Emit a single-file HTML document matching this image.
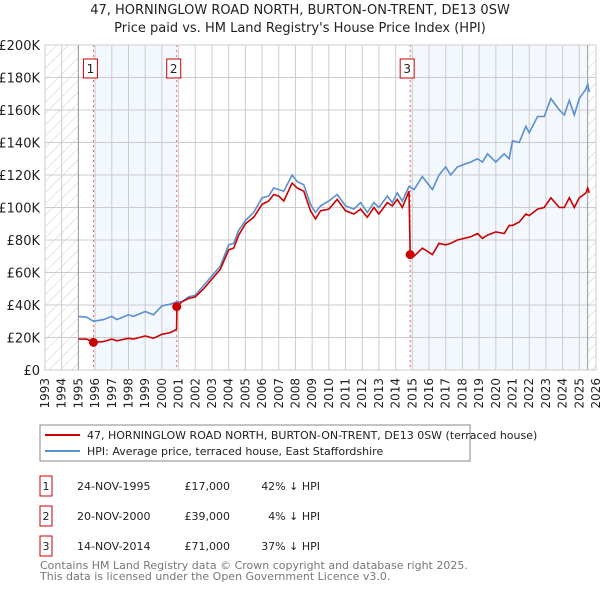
<!DOCTYPE html>
<html><head><meta charset="utf-8"><style>
body{margin:0;background:#fff;font-family:"DejaVu Sans","Liberation Sans",sans-serif;}
#wrap{position:relative;width:600px;height:590px;overflow:hidden}
</style></head><body>
<div id="wrap">
<svg id="chart" width="600" height="590" xmlns="http://www.w3.org/2000/svg">
<defs><pattern id="hatch" width="8" height="8" patternUnits="userSpaceOnUse" patternTransform="rotate(45)"><line x1="0" y1="0" x2="0" y2="8" stroke="#ccc" stroke-width="1"/></pattern></defs>
<text x="300" y="14" text-anchor="middle" font-size="13" fill="#222">47, HORNINGLOW ROAD NORTH, BURTON-ON-TRENT, DE13 0SW</text>
<text x="300" y="32" text-anchor="middle" font-size="13" fill="#222">Price paid vs. HM Land Registry's House Price Index (HPI)</text>
<g id="plot"></g>
<rect x="40" y="425" width="430" height="36" fill="#fff" stroke="#888"/>
<line x1="45" y1="435" x2="80" y2="435" stroke="#cc0000" stroke-width="2"/>
<text x="87" y="439" font-size="11" fill="#222">47, HORNINGLOW ROAD NORTH, BURTON-ON-TRENT, DE13 0SW (terraced house)</text>
<line x1="45" y1="451" x2="80" y2="451" stroke="#5b8fd0" stroke-width="2"/>
<text x="87" y="455" font-size="11" fill="#222">HPI: Average price, terraced house, East Staffordshire</text>
<g font-size="11" fill="#222">
<rect x="40" y="476" width="12" height="20" fill="#fff" stroke="#cc0000"/><text x="46" y="490" text-anchor="middle">1</text>
<text x="77" y="490">24-NOV-1995</text><text x="230" y="490" text-anchor="end">£17,000</text><text x="320" y="490" text-anchor="end">42% ↓ HPI</text>
<rect x="40" y="506" width="12" height="20" fill="#fff" stroke="#cc0000"/><text x="46" y="520" text-anchor="middle">2</text>
<text x="77" y="520">20-NOV-2000</text><text x="230" y="520" text-anchor="end">£39,000</text><text x="320" y="520" text-anchor="end">4% ↓ HPI</text>
<rect x="40" y="536" width="12" height="20" fill="#fff" stroke="#cc0000"/><text x="46" y="550" text-anchor="middle">3</text>
<text x="77" y="550">14-NOV-2014</text><text x="230" y="550" text-anchor="end">£71,000</text><text x="320" y="550" text-anchor="end">37% ↓ HPI</text>
</g>
<text x="40" y="569" font-size="11" fill="#777">Contains HM Land Registry data © Crown copyright and database right 2025.</text>
<text x="40" y="580" font-size="11" fill="#777">This data is licensed under the Open Government Licence v3.0.</text>
</svg></div>
<script>
const yTickValues=[0,20,40,60,80,100,120,140,160,180,200];
const yTickLabels=["£0","£20K","£40K","£60K","£80K","£100K","£120K","£140K","£160K","£180K","£200K"];
const xYears=[1993,1994,1995,1996,1997,1998,1999,2000,2001,2002,2003,2004,2005,2006,2007,2008,2009,2010,2011,2012,2013,2014,2015,2016,2017,2018,2019,2020,2021,2022,2023,2024,2025,2026];
const saleDates=[1995.9,2000.89,2014.87];
const salePrices=[17,39,71];
const saleLabels=["1","2","3"];
const hpiT=[1995.0,1995.5,1995.9,1996.5,1997,1997.3,1998,1998.3,1999,1999.5,2000,2000.5,2000.9,2001.2,2001.6,2002,2002.5,2003,2003.5,2004,2004.3,2004.6,2005,2005.5,2006,2006.4,2006.7,2007,2007.3,2007.8,2008.1,2008.5,2008.9,2009.2,2009.5,2010,2010.5,2011,2011.5,2011.9,2012.3,2012.7,2013,2013.5,2013.8,2014.1,2014.4,2014.8,2015.1,2015.6,2016.2,2016.6,2017,2017.3,2017.7,2018.5,2018.9,2019.2,2019.5,2020,2020.5,2020.8,2021,2021.4,2021.8,2022,2022.5,2022.9,2023.3,2023.8,2024.1,2024.4,2024.7,2025,2025.4,2025.5,2025.6];
const hpiV=[33,32.5,30,31,33,31,34,33,36,34,39.5,40.5,42,42,45,46,52,58,64,77,78,86,92,97,106,107,112,111,110,120,116,114,102,97,101,104,108,101,99,103,97,103,100,107,103,109,104,113,111,119,111,120,125,120,125,128,130,128,133,128,133,130,141,140,150,146,156,156,167,160,157,166,157,167,173,176,171];
const redT=[1995.0,1995.5,1995.9,1996.5,1997,1997.3,1998,1998.3,1999,1999.5,2000,2000.5,2000.88,2000.9,2001.2,2001.6,2002,2002.5,2003,2003.5,2004,2004.3,2004.6,2005,2005.5,2006,2006.4,2006.7,2007,2007.3,2007.8,2008.1,2008.5,2008.9,2009.2,2009.5,2010,2010.5,2011,2011.5,2011.9,2012.3,2012.7,2013,2013.5,2013.8,2014.1,2014.4,2014.8,2014.87,2015.1,2015.6,2016.2,2016.6,2017,2017.3,2017.7,2018.5,2018.9,2019.2,2019.5,2020,2020.5,2020.8,2021,2021.4,2021.8,2022,2022.5,2022.9,2023.3,2023.8,2024.1,2024.4,2024.7,2025,2025.4,2025.5,2025.6];
const redV=[19,19,17,17.5,19,18,19.5,19,21,19.5,22,23,25,39,42,44,45,50,56,62,74,75,83,90,94,102,104,108,107,104,115,112,110,98,93,98,99,105,98,96,99,94,100,96,103,101,105,100,110,71,70,75,71,78,77,78,80,82,84,81,83,85,84,89,89,91,96,95,99,100,106,100,100,106,100,106,109,112,109];

const X0=45,X1=596,Y0=370,Y1=45,T0=1993,T1=2026,VMAX=200;
const xs=t=>X0+(t-T0)/(T1-T0)*(X1-X0);
const ys=v=>Y0-v/VMAX*(Y0-Y1);
const NS="http://www.w3.org/2000/svg";
const g=document.getElementById('plot');
function mk(tag,attrs){const e=document.createElementNS(NS,tag);for(const k in attrs)e.setAttribute(k,attrs[k]);g.appendChild(e);return e;}
let e;
e=mk('rect',{x:X0,y:Y1,width:X1-X0,height:Y0-Y1,fill:'#fff'});


const dataEnd=2025.5;
e=mk('rect',{x:xs(saleDates[0]),y:Y1,width:xs(saleDates[1])-xs(saleDates[0]),height:Y0-Y1,fill:'#f3f7fe'});


e=mk('rect',{x:xs(saleDates[2]),y:Y1,width:xs(dataEnd)-xs(saleDates[2]),height:Y0-Y1,fill:'#f3f7fe'});


e=mk('rect',{x:X0,y:Y1,width:xs(1995)-X0,height:Y0-Y1,fill:'url(#hatch)'});


e=mk('rect',{x:xs(dataEnd),y:Y1,width:X1-xs(dataEnd),height:Y0-Y1,fill:'url(#hatch)'});


xYears.forEach(yr=>{
  e=mk('line',{x1:xs(yr),x2:xs(yr),y1:Y1,y2:Y0,stroke:'#ccc','stroke-width':1});
  
  
  const tx=xs(yr)+4;
  e=mk('text',{x:tx,y:378,transform:`rotate(-90 ${tx} 378)`,'text-anchor':'end','font-size':12,fill:'#222'});
  e.textContent=yr;
  
  
});
yTickValues.forEach((v,i)=>{
  e=mk('line',{x1:X0,x2:X1,y1:ys(v),y2:ys(v),stroke:'#ccc','stroke-width':1});
  
  
  e=mk('text',{x:40,y:ys(v)+5,'text-anchor':'end','font-size':13,fill:'#222'});
  e.textContent=yTickLabels[i];
  
  
});
e=mk('line',{x1:xs(1995),x2:xs(1995),y1:Y1,y2:Y0,stroke:'#999'});


e=mk('line',{x1:xs(dataEnd),x2:xs(dataEnd),y1:Y1,y2:Y0,stroke:'#999'});


saleDates.forEach((d,i)=>{
  e=mk('line',{x1:xs(d),x2:xs(d),y1:Y1,y2:Y0,stroke:'#f06060','stroke-dasharray':'2,3'});
  
  
  e=mk('rect',{x:xs(d)-10,y:59,width:14,height:19,fill:'#fff',stroke:'#cc0000'});
  
  
  e=mk('text',{x:xs(d)-3,y:73,'text-anchor':'middle','font-size':12,fill:'#222'});
  e.textContent=saleLabels[i];
  
  
});
e=mk('path',{d:hpiT.map((t,i)=>(i?'L':'M')+xs(t).toFixed(1)+','+ys(hpiV[i]).toFixed(1)).join(''),fill:'none',stroke:'#5b8fd0','stroke-width':1.6});


e=mk('path',{d:redT.map((t,i)=>(i?'L':'M')+xs(t).toFixed(1)+','+ys(redV[i]).toFixed(1)).join(''),fill:'none',stroke:'#cc0000','stroke-width':1.6});


saleDates.forEach((d,i)=>{
  e=mk('circle',{cx:xs(d),cy:ys(salePrices[i]),r:4.5,fill:'#cc0000'});
  
  
});
e=mk('rect',{x:X0,y:Y1,width:X1-X0,height:Y0-Y1,fill:'none',stroke:'#ccc'});


</script>
</body></html>
